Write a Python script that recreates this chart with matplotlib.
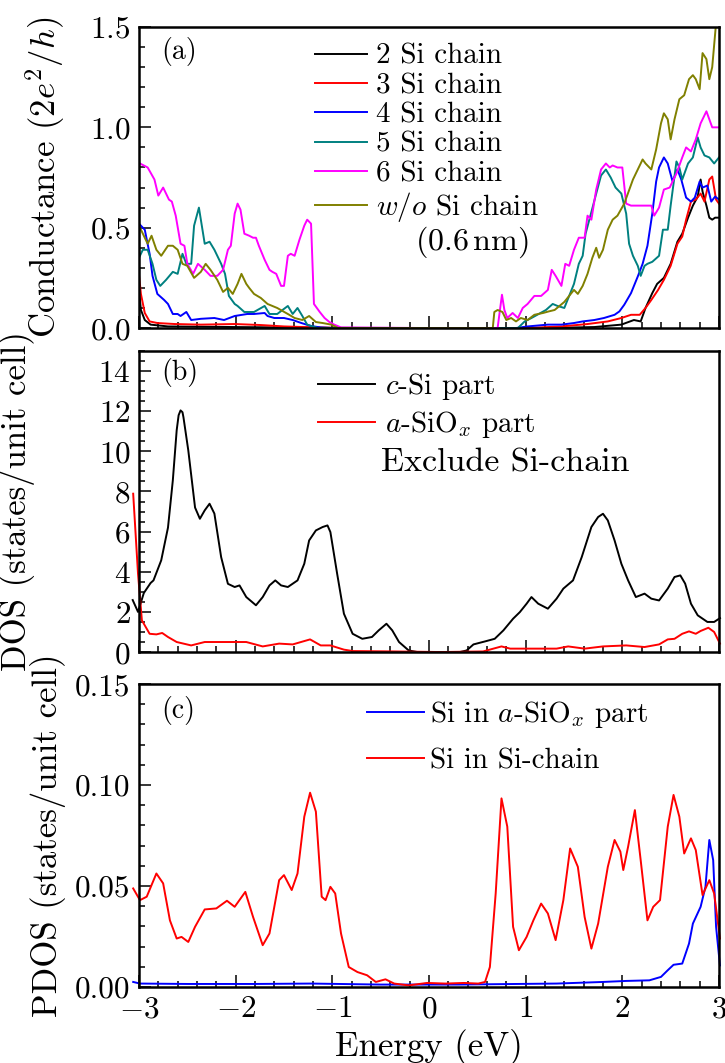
import numpy as np
import matplotlib
matplotlib.use("Agg")
import matplotlib as mpl
from matplotlib import pyplot as plt
from matplotlib.ticker import MultipleLocator

# Computer Modern look
mpl.rc('font', family='serif')
mpl.rcParams['font.serif'] = ['cmr10']
mpl.rcParams['mathtext.fontset'] = 'cm'
mpl.rcParams['axes.formatter.use_mathtext'] = True
mpl.rcParams['axes.unicode_minus'] = True

# ---------------- (a) conductance, six structures ----------------
si2_e = [-3.0, -2.98, -2.94, -2.88, -2.7, -2.01, -1.5, -1.0, 0.0, 1.2, 1.71, 1.99, 2.12, 2.19, 2.24,
         2.31, 2.36, 2.43, 2.50, 2.57, 2.62, 2.68, 2.73, 2.78, 2.81, 2.83, 2.87, 2.90, 2.93, 2.96, 3.0]
si2_g = [0.19, 0.09, 0.04, 0.017, 0.008, 0.005, 0.003, 0.001, 0.0, 0.0, 0.005, 0.017, 0.04, 0.033, 0.10,
         0.174, 0.22, 0.25, 0.32, 0.43, 0.47, 0.55, 0.61, 0.655, 0.74, 0.68, 0.61, 0.55, 0.54, 0.55, 0.55]

si3_e = [-3.0, -2.98, -2.94, -2.89, -2.81, -2.63, -2.36, -2.01, -1.74, -1.5, -1.15, -0.9, 0.0, 1.0, 1.37,
         1.64, 1.85, 1.99, 2.09, 2.18, 2.24, 2.30, 2.37, 2.43, 2.50, 2.57, 2.62, 2.66, 2.71, 2.76, 2.81,
         2.85, 2.90, 2.93, 2.97, 3.0]
si3_g = [0.265, 0.17, 0.075, 0.033, 0.025, 0.02, 0.017, 0.02, 0.015, 0.008, 0.003, 0.0, 0.0, 0.0, 0.008,
         0.02, 0.033, 0.05, 0.066, 0.066, 0.10, 0.14, 0.19, 0.24, 0.31, 0.42, 0.456, 0.54, 0.63, 0.64, 0.67,
         0.63, 0.74, 0.755, 0.64, 0.62]

si4_e = [-3.0, -2.94, -2.89, -2.86, -2.81, -2.74, -2.70, -2.65, -2.60, -2.57, -2.51, -2.46, -2.36, -2.22,
         -2.12, -2.01, -1.88, -1.81, -1.70, -1.67, -1.60, -1.50, -1.41, -1.32, -1.22, -1.12, -1.0, 0.0,
         0.9, 1.02, 1.23, 1.37, 1.50, 1.59, 1.71, 1.81, 1.92, 1.97, 2.02, 2.09, 2.16, 2.21, 2.26, 2.31,
         2.35, 2.38, 2.43, 2.47, 2.52, 2.57, 2.61, 2.66, 2.71, 2.75, 2.80, 2.83, 2.88, 2.92, 2.96, 3.0]
si4_g = [0.52, 0.49, 0.37, 0.26, 0.17, 0.14, 0.12, 0.07, 0.07, 0.06, 0.08, 0.04, 0.046, 0.05,
         0.04, 0.06, 0.07, 0.07, 0.075, 0.06, 0.05, 0.05, 0.04, 0.025, 0.01, 0.003, 0.0, 0.0,
         0.0, 0.008, 0.017, 0.017, 0.025, 0.033, 0.04, 0.05, 0.066, 0.083, 0.116, 0.174, 0.257, 0.32, 0.41, 0.57,
         0.73, 0.80, 0.85, 0.82, 0.73, 0.79, 0.74, 0.65, 0.63, 0.65, 0.73, 0.70, 0.71, 0.63, 0.655, 0.64]

si5_e = [-3.0, -2.96, -2.91, -2.86, -2.82, -2.78, -2.72, -2.65, -2.60, -2.55, -2.51, -2.46, -2.43, -2.38,
         -2.36, -2.32, -2.27, -2.22, -2.15, -2.11, -2.07, -2.01, -1.98, -1.91, -1.81, -1.70, -1.65, -1.57,
         -1.46, -1.41, -1.36, -1.31, -1.26, -1.15, 0.0, 0.92, 0.99, 1.06, 1.12, 1.21, 1.28, 1.33, 1.40, 1.45,
         1.50, 1.55, 1.59, 1.62, 1.67, 1.73, 1.78, 1.83, 1.88, 1.93, 1.99, 2.04, 2.07, 2.11, 2.16, 2.19,
         2.23, 2.26, 2.31, 2.38, 2.42, 2.47, 2.50, 2.56, 2.59, 2.62, 2.68, 2.73, 2.78, 2.81, 2.85, 2.90,
         2.95, 3.0]
si5_g = [0.35, 0.39, 0.39, 0.32, 0.24, 0.21, 0.24, 0.28, 0.27, 0.37, 0.32, 0.32, 0.51, 0.60,
         0.54, 0.42, 0.43, 0.39, 0.32, 0.27, 0.16, 0.12, 0.11, 0.08, 0.08, 0.11, 0.07, 0.07,
         0.11, 0.07, 0.10, 0.06, 0.017, 0.0, 0.0, 0.0, 0.033, 0.05, 0.066, 0.09, 0.12, 0.11, 0.10, 0.16,
         0.22, 0.32, 0.36, 0.47, 0.56, 0.67, 0.76, 0.79, 0.75, 0.70, 0.67, 0.57, 0.42, 0.36, 0.31, 0.26,
         0.31, 0.32, 0.33, 0.36, 0.49, 0.49, 0.61, 0.83, 0.80, 0.74, 0.82, 0.85, 0.95, 0.90, 0.86, 0.85,
         0.82, 0.85]

si6_e = [-2.99, -2.91, -2.84, -2.80, -2.75, -2.72, -2.69, -2.66, -2.62, -2.57, -2.53, -2.50, -2.44, -2.39,
         -2.32, -2.26, -2.19, -2.13, -2.08, -2.05, -2.01, -1.98, -1.95, -1.91, -1.86, -1.82, -1.79, -1.76,
         -1.70, -1.65, -1.62, -1.58, -1.53, -1.50, -1.46, -1.43, -1.39, -1.34, -1.29, -1.26, -1.22, -1.19,
         -1.13, -1.08, -1.03, -0.98, -0.91, 0.0, 0.71, 0.73, 0.755, 0.78, 0.81, 0.865, 0.92, 0.97, 1.02, 1.09,
         1.16, 1.23, 1.27, 1.31, 1.37, 1.41, 1.45, 1.50, 1.55, 1.61, 1.64, 1.68, 1.73, 1.78, 1.83, 1.87,
         1.90, 1.95, 2.0, 2.04, 2.09, 2.16, 2.23, 2.30, 2.33, 2.38, 2.43, 2.49, 2.56, 2.62, 2.66, 2.71,
         2.76, 2.81, 2.87, 2.90, 2.93, 2.97, 3.0]
si6_g = [0.82, 0.80, 0.74, 0.66, 0.70, 0.67, 0.64, 0.63, 0.56, 0.42, 0.41, 0.32, 0.27, 0.32,
         0.29, 0.26, 0.26, 0.29, 0.39, 0.41, 0.57, 0.62, 0.59, 0.47, 0.46, 0.45, 0.45, 0.41,
         0.34, 0.29, 0.28, 0.27, 0.21, 0.21, 0.36, 0.37, 0.36, 0.44, 0.51, 0.54, 0.52, 0.12,
         0.08, 0.05, 0.03, 0.017, 0.003, 0.0, 0.0, 0.075, 0.166, 0.09, 0.05, 0.075, 0.05, 0.10, 0.12, 0.16,
         0.16, 0.19, 0.29, 0.26, 0.21, 0.32, 0.31, 0.39, 0.45, 0.45, 0.56, 0.54, 0.69, 0.79, 0.82, 0.80,
         0.81, 0.80, 0.80, 0.62, 0.61, 0.61, 0.61, 0.61, 0.56, 0.60, 0.69, 0.70, 0.77, 0.85, 0.90, 0.88,
         0.94, 1.02, 1.08, 1.04, 1.0, 1.0, 1.0]

wo_e = [-3.0, -2.96, -2.91, -2.87, -2.82, -2.77, -2.70, -2.65, -2.60, -2.55, -2.50, -2.43, -2.36, -2.31,
        -2.26, -2.19, -2.13, -2.08, -2.03, -1.98, -1.94, -1.89, -1.86, -1.81, -1.74, -1.67, -1.57, -1.46,
        -1.39, -1.31, -1.24, -1.17, -1.10, -1.01, -0.94, 0.0, 0.66, 0.676, 0.71, 0.76, 0.80, 0.85, 0.90,
        0.95, 1.02, 1.09, 1.18, 1.24, 1.30, 1.35, 1.40, 1.45, 1.50, 1.54, 1.59, 1.64, 1.69, 1.73, 1.76,
        1.80, 1.85, 1.90, 1.95, 2.02, 2.05, 2.11, 2.16, 2.21, 2.24, 2.30, 2.35, 2.40, 2.43, 2.47, 2.50,
        2.54, 2.59, 2.64, 2.69, 2.73, 2.76, 2.80, 2.83, 2.87, 2.90, 2.93, 2.97]
wo_g = [0.51, 0.47, 0.42, 0.46, 0.39, 0.36, 0.41, 0.41, 0.39, 0.32, 0.31, 0.25, 0.28, 0.32,
        0.29, 0.24, 0.18, 0.20, 0.17, 0.22, 0.27, 0.22, 0.20, 0.17, 0.15, 0.12, 0.10, 0.07,
        0.05, 0.04, 0.06, 0.03, 0.025, 0.017, 0.0, 0.0, 0.0, 0.08, 0.09, 0.08, 0.04, 0.05, 0.033,
        0.05, 0.04, 0.066, 0.075, 0.083, 0.09, 0.11, 0.13, 0.16, 0.19, 0.17, 0.21, 0.27, 0.35, 0.40, 0.35,
        0.39, 0.49, 0.54, 0.56, 0.62, 0.66, 0.74, 0.79, 0.84, 0.82, 0.79, 0.89, 1.02, 1.07, 1.04, 0.94,
        1.04, 1.14, 1.16, 1.24, 1.26, 1.24, 1.19, 1.37, 1.34, 1.24, 1.30, 1.52]

cond_series = [(si2_e, si2_g, 'k', '2 Si chain'),
               (si3_e, si3_g, '#ff0000', '3 Si chain'),
               (si4_e, si4_g, '#0000ff', '4 Si chain'),
               (si5_e, si5_g, '#008080', '5 Si chain'),
               (si6_e, si6_g, '#ff00ff', '6 Si chain'),
               (wo_e, wo_g, '#808000', r'$w/o$ Si chain')]

# ---------------- (b) DOS ----------------
csi_e = [-3.065, -3.01, -2.95, -2.88, -2.85, -2.77, -2.70, -2.65, -2.61, -2.59, -2.57, -2.55, -2.54, -2.49,
         -2.42, -2.37, -2.32, -2.27, -2.22, -2.15, -2.08, -2.01, -1.96, -1.89, -1.79, -1.72, -1.65, -1.59,
         -1.53, -1.46, -1.36, -1.29, -1.24, -1.17, -1.10, -1.05, -1.02, -0.95, -0.88, -0.79, -0.69, -0.59,
         -0.52, -0.44, -0.38, -0.31, -0.21, -0.12, 0.32, 0.39, 0.46, 0.58, 0.68, 0.77, 0.87, 0.94, 1.01,
         1.06, 1.13, 1.23, 1.32, 1.39, 1.49, 1.58, 1.68, 1.75, 1.80, 1.85, 1.92, 1.99, 2.06, 2.14, 2.23,
         2.30, 2.38, 2.47, 2.54, 2.60, 2.65, 2.71, 2.78, 2.88, 2.95, 3.01]
csi_d = [2.59, 2.0, 2.94, 3.44, 3.57, 4.57, 6.2, 8.55, 11.05, 11.8, 12.04, 11.95, 11.7, 10.05,
         7.2, 6.64, 7.06, 7.39, 6.9, 4.73, 3.4, 3.24, 3.32, 2.74, 2.33, 2.74, 3.32, 3.57,
         3.32, 3.24, 3.57, 4.4, 5.56, 6.06, 6.23, 6.31, 5.98, 3.9, 1.91, 0.91, 0.66, 0.75,
         1.08, 1.41, 1.08, 0.5, 0.08, 0.0, 0.0, 0.08, 0.38, 0.53, 0.66, 1.08, 1.66, 1.99, 2.41,
         2.74, 2.41, 2.16, 2.66, 3.16, 3.57, 4.73, 6.23, 6.73, 6.89, 6.56, 5.56, 4.4, 3.57, 2.74, 2.91,
         2.66, 2.57, 3.16, 3.74, 3.82, 3.41, 2.41, 1.83, 1.5, 1.5, 1.69]

asi_e = [-3.06, -3.01, -2.97, -2.89, -2.82, -2.76, -2.70, -2.61, -2.46, -2.32, -2.13, -1.89, -1.72, -1.55,
         -1.41, -1.23, -1.12, -1.02, -0.88, -0.79, -0.36, 0.12, 0.56, 0.75, 0.84, 1.08, 1.32, 1.44, 1.61,
         1.80, 2.04, 2.23, 2.38, 2.47, 2.54, 2.62, 2.69, 2.76, 2.81, 2.89, 2.95, 3.01]
asi_d = [7.89, 3.9, 1.58, 0.91, 0.88, 0.95, 0.75, 0.5, 0.33, 0.5, 0.5, 0.5, 0.28, 0.42,
         0.38, 0.63, 0.33, 0.33, 0.12, 0.05, 0.03, 0.0, 0.03, 0.28, 0.17, 0.17, 0.17, 0.28, 0.17,
         0.28, 0.33, 0.25, 0.38, 0.63, 0.66, 0.91, 1.03, 0.91, 1.05, 1.21, 1.0, 0.42]

# ---------------- (c) PDOS ----------------
chain_e = [-3.06, -2.99, -2.92, -2.82, -2.75, -2.68, -2.61, -2.56, -2.49, -2.42, -2.32, -2.20, -2.09, -2.01,
           -1.90, -1.82, -1.72, -1.65, -1.55, -1.50, -1.42, -1.36, -1.29, -1.23, -1.17, -1.11, -1.07, -1.02,
           -0.97, -0.91, -0.83, -0.74, -0.64, -0.55, -0.45, -0.36, -0.21, -0.02, 0.17, 0.36, 0.51, 0.58,
           0.63, 0.69, 0.75, 0.81, 0.87, 0.93, 1.01, 1.08, 1.16, 1.23, 1.31, 1.39, 1.46, 1.54, 1.61, 1.68,
           1.75, 1.85, 1.92, 1.98, 2.01, 2.06, 2.13, 2.19, 2.26, 2.32, 2.39, 2.47, 2.53, 2.59, 2.64, 2.71,
           2.76, 2.83, 2.90, 2.95, 3.01]
chain_p = [0.0488, 0.043, 0.0447, 0.0562, 0.0513, 0.033, 0.024, 0.0248, 0.0223, 0.0298, 0.0384, 0.0389, 0.0427, 0.0397,
           0.0471, 0.0347, 0.0207, 0.0265, 0.0529, 0.0554, 0.048, 0.0562, 0.0843, 0.0962, 0.0868, 0.0447, 0.043, 0.0496,
           0.0463, 0.0265, 0.0099, 0.0074, 0.0058, 0.0025, 0.0038, 0.0017, 0.0008, 0.002, 0.0017, 0.002, 0.0017, 0.0025,
           0.0099, 0.0463, 0.0934, 0.0794, 0.0298, 0.0182, 0.0248, 0.033, 0.0413, 0.0364, 0.0232, 0.043, 0.0686, 0.0595, 0.0347, 0.019,
           0.0314, 0.0595, 0.0728, 0.067, 0.0579, 0.0695, 0.0876, 0.0628, 0.033, 0.0397, 0.043, 0.0794, 0.0951, 0.0843, 0.0661, 0.0736,
           0.0678, 0.0455, 0.0529, 0.0463, 0.024]

oxide_e = [-3.06, -2.99, -2.5, -1.8, -1.22, -0.5, 0.3, 1.32, 1.80, 2.04, 2.28, 2.40, 2.47, 2.53, 2.62,
           2.69, 2.73, 2.81, 2.86, 2.90, 2.94, 2.97, 3.01]
oxide_p = [0.0025, 0.0017, 0.0015, 0.0015, 0.0017, 0.0012, 0.0012, 0.0017, 0.0025, 0.003, 0.0033, 0.005, 0.0083, 0.011, 0.0116,
           0.0215, 0.0314, 0.0397, 0.0496, 0.0728, 0.0628, 0.0298, 0.0107]

xticks = [-3, -2, -1, 0, 1, 2, 3]

lw = 1.4
tick_fs = 22.5
label_fs = 25
leg_fs = 21

fig = plt.figure(figsize=(7.25, 10.63), dpi=100)
ax_a = fig.add_axes([0.1917, 0.6914, 0.8, 0.2832])
ax_b = fig.add_axes([0.1917, 0.3866, 0.8, 0.2832])
ax_c = fig.add_axes([0.1917, 0.0715, 0.8, 0.2850])

for e, g, col, lab in cond_series:
    ax_a.plot(e, g, color=col, lw=lw, label=lab)
ax_a.set_ylim(0, 1.5)
ax_a.yaxis.set_major_locator(MultipleLocator(0.5))
ax_a.yaxis.set_minor_locator(MultipleLocator(0.1))
ax_a.set_ylabel(r'Conductance $(2e^2/h)$', fontsize=label_fs)
ax_a.yaxis.set_label_coords(-0.124, 0.5)
ax_a.legend(loc='upper left', bbox_to_anchor=(0.303, 0.945), frameon=False, fontsize=leg_fs,
            handlelength=1.8, handletextpad=0.3, labelspacing=0.1, borderpad=0, borderaxespad=0)
ax_a.text(0.574, 0.285, r'(0.6$\,$nm)', transform=ax_a.transAxes, fontsize=23, ha='center', va='center')
ax_a.text(0.038, 0.917, '(a)', transform=ax_a.transAxes, fontsize=20, ha='left', va='center')

ax_b.plot(csi_e, csi_d, color='k', lw=lw, label=r'$c$-Si part', clip_on=False)
ax_b.plot(asi_e, asi_d, color='#ff0000', lw=lw, label=r'$a$-SiO$_x$ part', clip_on=False)
ax_b.set_ylim(0, 15)
ax_b.yaxis.set_major_locator(MultipleLocator(2))
ax_b.yaxis.set_minor_locator(MultipleLocator(0.5))
ax_b.set_ylabel('DOS (states/unit cell)', fontsize=label_fs)
ax_b.yaxis.set_label_coords(-0.179, 0.5)
ax_b.legend(loc='upper left', bbox_to_anchor=(0.309, 0.934), frameon=False, fontsize=leg_fs,
            handlelength=1.95, handletextpad=0.33, labelspacing=0.25, borderpad=0, borderaxespad=0)
ax_b.text(0.417, 0.628, 'Exclude Si-chain', transform=ax_b.transAxes, fontsize=24.5, ha='left', va='center')
ax_b.text(0.038, 0.927, '(b)', transform=ax_b.transAxes, fontsize=20, ha='left', va='center')

ax_c.plot(oxide_e, oxide_p, color='#0000ff', lw=lw, label=r'Si in $a$-SiO$_x$ part', clip_on=False)
ax_c.plot(chain_e, chain_p, color='#ff0000', lw=lw, label='Si in Si-chain', clip_on=False)
ax_c.set_ylim(0, 0.15)
ax_c.yaxis.set_major_locator(MultipleLocator(0.05))
ax_c.yaxis.set_minor_locator(MultipleLocator(0.01))
ax_c.yaxis.set_major_formatter(mpl.ticker.FormatStrFormatter('%.2f'))
ax_c.set_ylabel('PDOS (states/unit cell)', fontsize=label_fs)
ax_c.yaxis.set_label_coords(-0.126, 0.5)
ax_c.legend(loc='upper left', bbox_to_anchor=(0.393, 0.95), frameon=False, fontsize=leg_fs,
            handlelength=1.95, handletextpad=0.2, labelspacing=0.6, borderpad=0, borderaxespad=0)
ax_c.text(0.038, 0.914, '(c)', transform=ax_c.transAxes, fontsize=20, ha='left', va='center')
ax_c.set_xlabel('Energy (eV)', fontsize=label_fs)
ax_c.set_xticks(xticks)

for ax in (ax_a, ax_b, ax_c):
    ax.set_xlim(-3, 3)
    ax.xaxis.set_major_locator(MultipleLocator(1))
    ax.xaxis.set_minor_locator(MultipleLocator(0.2))
    ax.tick_params(which='both', direction='in', top=False, right=False, width=1.1, labelsize=tick_fs)
    ax.tick_params(which='major', length=8.5, pad=6)
    ax.tick_params(which='minor', length=4.5)
    for sp in ax.spines.values():
        sp.set_linewidth(1.8)
ax_a.tick_params(labelbottom=False)
ax_b.tick_params(labelbottom=False)

fig.savefig('out.png', dpi=100)
